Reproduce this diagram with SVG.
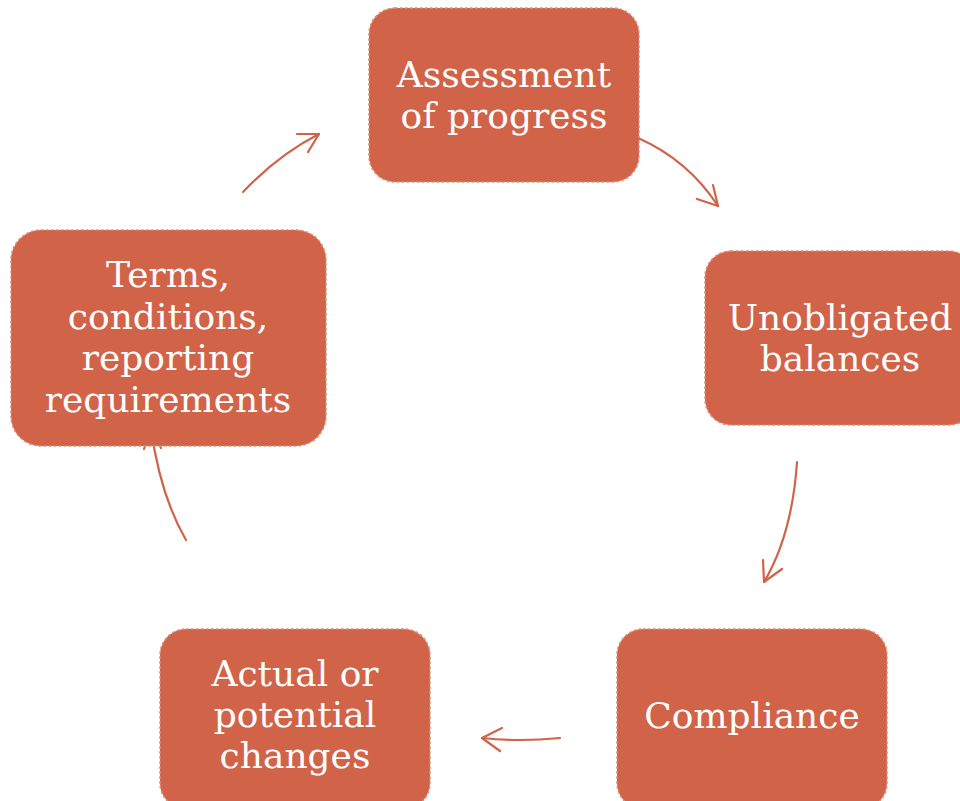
<svg xmlns="http://www.w3.org/2000/svg" width="960" height="801" viewBox="0 0 960 801">
  <defs>
    <style>
      .box { fill: #D16349; stroke: #E08B77; stroke-width: 1.6; stroke-dasharray: 2.5 2.5; }
      .lbl { fill: #FFFFFF; font-family: "DejaVu Serif", "Liberation Serif", serif; font-size: 36px; text-anchor: middle; }
      .conn { fill: none; stroke: #D16349; stroke-width: 2.2; stroke-linecap: round; stroke-linejoin: round; }
    </style>
  </defs>
  <rect width="960" height="801" fill="#FFFFFF"/>

  <!-- cycle connectors, drawn beneath the nodes -->
  <g id="connectors">
    <path class="conn" d="M638,138 Q688,160 718,206"/>
    <path class="conn" d="M697,199 L718,206 L713,185"/>

    <path class="conn" d="M797,462 Q792,535 764,582"/>
    <path class="conn" d="M763,560 L764,582 L782,569"/>

    <path class="conn" d="M560,738 Q520,742 482,738"/>
    <path class="conn" d="M502,728 L482,738 L500,751"/>

    <path class="conn" d="M186,540 Q160,495 151,428"/>
    <path class="conn" d="M144,449 L151,428 L161,448"/>

    <path class="conn" d="M243,192 Q278,155 319,134"/>
    <path class="conn" d="M297,134 L319,134 L308,152"/>
  </g>

  <g id="assessment">
    <rect class="box" x="369" y="8" width="270" height="174" rx="26"/>
    <text class="lbl" x="504" y="87">Assessment</text>
    <text class="lbl" x="504" y="128">of progress</text>
  </g>

  <g id="unobligated">
    <rect class="box" x="705" y="251" width="270" height="174" rx="26"/>
    <text class="lbl" x="840" y="330">Unobligated</text>
    <text class="lbl" x="840" y="371">balances</text>
  </g>

  <g id="compliance">
    <rect class="box" x="617" y="629" width="270" height="180" rx="26"/>
    <text class="lbl" x="752" y="728">Compliance</text>
  </g>

  <g id="changes">
    <rect class="box" x="160" y="629" width="270" height="180" rx="26"/>
    <text class="lbl" x="295" y="686">Actual or</text>
    <text class="lbl" x="295" y="727">potential</text>
    <text class="lbl" x="295" y="768">changes</text>
  </g>

  <g id="terms">
    <rect class="box" x="11" y="230" width="315" height="216" rx="30"/>
    <text class="lbl" x="168" y="287">Terms,</text>
    <text class="lbl" x="168" y="329">conditions,</text>
    <text class="lbl" x="168" y="370">reporting</text>
    <text class="lbl" x="168" y="412">requirements</text>
  </g>
</svg>
